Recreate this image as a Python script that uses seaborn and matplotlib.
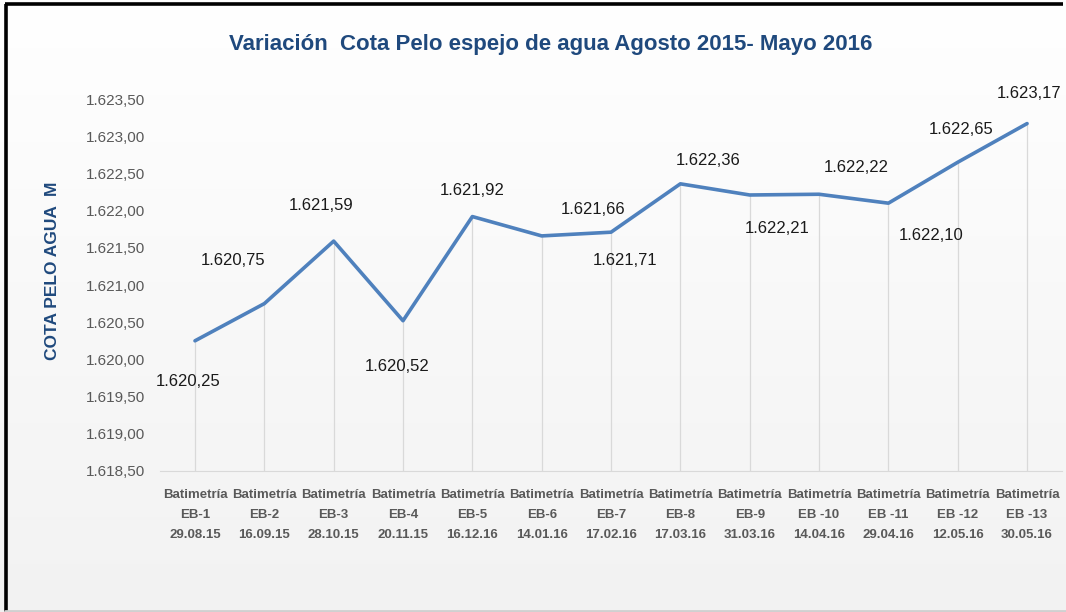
import numpy as np
import pandas as pd
import matplotlib.pyplot as plt
import seaborn as sns

# data
campaigns = ["EB-1", "EB-2", "EB-3", "EB-4", "EB-5", "EB-6", "EB-7",
             "EB-8", "EB-9", "EB -10", "EB -11", "EB -12", "EB -13"]
dates = ["29.08.15", "16.09.15", "28.10.15", "20.11.15", "16.12.16", "14.01.16",
         "17.02.16", "17.03.16", "31.03.16", "14.04.16", "29.04.16", "12.05.16", "30.05.16"]
cota = [1620.25, 1620.75, 1621.59, 1620.52, 1621.92, 1621.66, 1621.71,
        1622.36, 1622.21, 1622.22, 1622.10, 1622.65, 1623.17]
y_ticks = [1618.5, 1619.0, 1619.5, 1620.0, 1620.5, 1621.0,
           1621.5, 1622.0, 1622.5, 1623.0, 1623.5]

# label offsets (pixels) as placed in the original
label_dx = [-7, -31, -13, -6, 0, 51, 14, 28, 27, 37, 43, 3, 2]
label_dy = [-41, 43, 36, -46, 26, 26, -28, 23, -34, 27, -32, 33, 30]

labels = [f"Batimetría\n{c}\n{d}" for c, d in zip(campaigns, dates)]
df = pd.DataFrame({"campania": labels, "cota": cota})


def fmt_es(v):
    # 1620.25 -> 1.620,25
    s = f"{v:,.2f}"
    return s.replace(",", "X").replace(".", ",").replace("X", ".")


sns.set_style("white")
plt.rcParams["font.family"] = ["Liberation Sans", "DejaVu Sans"]

fig = plt.figure(figsize=(10.66, 6.12), dpi=100)

# background gradient white -> light grey
bg = fig.add_axes([0, 0, 1, 1], zorder=-10)
grad = np.linspace(1.0, 0.949, 256).reshape(-1, 1)
bg.imshow(np.dstack([grad, grad, grad]), aspect="auto", extent=[0, 1, 0, 1])
bg.set_xlim(0, 1)
bg.set_ylim(0, 1)
bg.axis("off")
# frame of the screenshot
bg.plot([0.0055, 0.0055], [0, 0.993], color="black", lw=2.6, solid_capstyle="butt")
bg.plot([0.0045, 0.997], [0.993, 0.993], color="black", lw=2.6, solid_capstyle="butt")
bg.plot([0.005, 1], [0.002, 0.002], color="#d0d0d0", lw=2)

ax = fig.add_axes([0.1504, 0.2304, 0.8456, 0.6078])
ax.patch.set_alpha(0)

sns.lineplot(data=df, x="campania", y="cota", sort=False, color="#4F81BD",
             linewidth=2.6, ax=ax)

xs = np.arange(len(cota))
ax.vlines(xs, y_ticks[0], cota, color="#d9d9d9", lw=0.9, zorder=1)

for i, v in enumerate(cota):
    ax.annotate(fmt_es(v), (xs[i], v), xytext=(label_dx[i], label_dy[i]),
                textcoords="offset pixels", ha="center", va="center",
                fontsize=12, color="#1a1a1a")

ax.set_xlim(-0.5, len(cota) - 0.5)
ax.set_ylim(y_ticks[0], y_ticks[-1])
ax.set_yticks(y_ticks)
ax.set_yticklabels([fmt_es(t) for t in y_ticks], color="#595959", fontsize=11)
ax.set_xticks(xs)
ax.set_xticklabels(labels, fontsize=9.5, fontweight="bold", color="#595959",
                   linespacing=1.9)
ax.tick_params(axis="y", length=0, pad=11)
ax.tick_params(axis="x", length=0, pad=13)
for side in ["top", "right", "left"]:
    ax.spines[side].set_visible(False)
ax.spines["bottom"].set_color("#d9d9d9")
ax.set_xlabel("")
ax.set_ylabel("")

fig.text(0.049, 0.558, "COTA PELO AGUA  M", rotation=90, ha="center", va="center",
         fontsize=12.5, fontweight="bold", color="#1F497D")
fig.text(0.517, 0.927, "Variación  Cota Pelo espejo de agua Agosto 2015- Mayo 2016",
         ha="center", va="center", fontsize=16, fontweight="bold", color="#1F497D")

fig.savefig("out.png", dpi=100)
